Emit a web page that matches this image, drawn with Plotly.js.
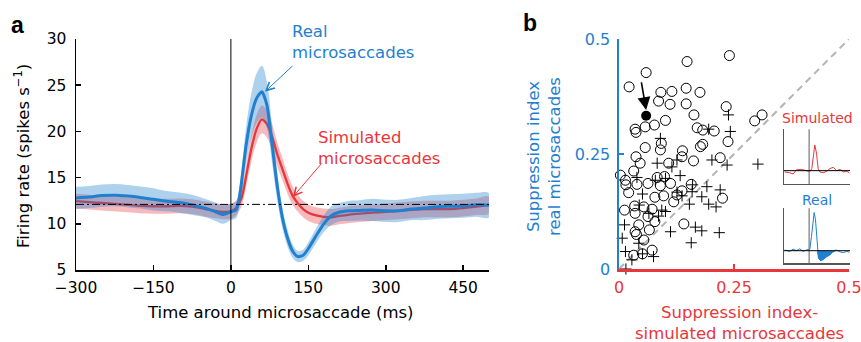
<!DOCTYPE html>
<html><head><meta charset="utf-8">
<script src="https://cdn.plot.ly/plotly-3.0.1.min.js"></script>
<style>html,body{margin:0;padding:0;background:#fff}</style>
</head><body><div id="chart" style="width:861px;height:342px"></div>
<script>
// ---------- Panel a data ----------
const timeMs = [-300,-275,-250,-225,-200,-175,-150,-125,-100,-75,-50,-30,-15,0,10,15,20,25,30,40,50,60,70,80,90,100,110,120,130,140,150,165,180,195,210,230,250,275,300,325,350,375,400,425,450,475,500];
const realMean = [12.8,12.9,13.05,13.1,13.0,12.85,12.65,12.45,12.3,12.05,11.7,11.3,11.0,11.3,11.5,12.4,14.2,16.5,18.7,21.8,23.6,24.3,22.8,18.5,14.0,10.6,8.4,7.0,6.45,6.6,7.3,8.7,10.0,10.9,11.25,11.4,11.45,11.5,11.4,11.4,11.6,11.7,11.85,11.9,11.95,12.05,12.0];
const realSem = [1.2,1.2,1.2,1.2,1.2,1.2,1.2,1.1,1.1,1.1,1.0,1.0,1.0,0.9,0.9,1.0,1.3,1.7,2.0,2.4,2.7,2.8,2.5,2.0,1.5,1.1,0.9,0.7,0.6,0.6,0.7,0.8,0.9,1.0,1.0,1.1,1.1,1.2,1.2,1.2,1.2,1.3,1.3,1.3,1.3,1.3,1.3];
const simMean = [12.45,12.35,12.25,12.15,12.05,11.95,11.9,11.9,11.95,11.85,11.6,11.4,11.3,11.35,11.7,12.1,12.7,13.8,15.3,18.2,20.3,21.3,20.8,19.4,17.5,15.9,14.3,13.0,12.2,11.6,11.2,10.9,10.75,10.7,10.85,11.0,11.1,11.2,11.3,11.4,11.5,11.6,11.6,11.6,11.7,11.85,12.05];
const simSem = [0.8,0.8,0.8,0.8,0.8,0.8,0.8,0.8,0.8,0.8,0.8,0.8,0.8,0.8,0.8,0.8,0.9,1.0,1.2,1.4,1.5,1.5,1.5,1.4,1.3,1.2,1.1,1.0,0.9,0.9,0.9,0.9,0.9,0.9,0.9,0.9,0.9,0.9,0.9,0.9,0.9,0.9,0.9,0.9,0.9,0.9,0.9];
const baselineRate = 12.1;
const timeTicks = [-300,-150,0,150,300,450];
const timeTickText = ['\u2212300','\u2212150','0','150','300','450'];
const rateTicks = [5,10,15,20,25,30];
const realArrowTip = [66, 24.3];
const simArrowTip = [120, 12.9];

// ---------- Panel b data ----------
const circX = [0.240,0.148,0.059,0.022,0.091,0.115,0.146,0.176,0.086,0.111,0.146,0.233,0.311,0.163,0.101,0.295,0.035,0.037,0.057,0.077,0.170,0.182,0.207,0.237,0.092,0.090,0.057,0.177,0.182,0.138,0.137,0.037,0.046,0.162,0.108,0.220,0.032,0.003,0.014,0.015,0.039,0.063,0.083,0.099,0.090,0.112,0.157,0.137,0.021,0.078,0.097,0.119,0.126,0.225,0.012,0.035,0.034,0.054,0.072,0.063,0.078,0.043,0.035,0.038,0.066,0.141,0.054,0.072,0.051,0.032];
const circY = [0.464,0.451,0.427,0.396,0.384,0.386,0.393,0.384,0.365,0.358,0.359,0.353,0.335,0.335,0.323,0.322,0.304,0.297,0.309,0.313,0.307,0.302,0.300,0.277,0.273,0.259,0.264,0.266,0.271,0.257,0.244,0.244,0.230,0.235,0.230,0.242,0.213,0.204,0.193,0.183,0.184,0.186,0.199,0.201,0.181,0.186,0.184,0.170,0.166,0.156,0.159,0.146,0.161,0.154,0.128,0.121,0.137,0.135,0.130,0.114,0.103,0.096,0.081,0.075,0.085,0.098,0.063,0.041,0.033,0.030];
const crossX = [0.238,0.242,0.195,0.090,0.083,0.115,0.126,0.202,0.235,0.302,0.039,0.079,0.101,0.133,0.160,0.191,0.220,0.126,0.051,0.137,0.159,0.180,0.195,0.211,0.153,0.044,0.065,0.093,0.101,0.086,0.012,0.166,0.180,0.218,0.112,0.007,0.043,0.157,0.051,0.014,0.075,0.028,0.015];
const crossY = [0.335,0.299,0.304,0.284,0.230,0.222,0.237,0.237,0.226,0.228,0.199,0.193,0.197,0.203,0.183,0.179,0.172,0.167,0.163,0.159,0.168,0.157,0.141,0.135,0.141,0.139,0.121,0.128,0.125,0.115,0.096,0.091,0.083,0.079,0.081,0.067,0.056,0.057,0.033,0.038,0.027,0.020,0.000];
const exampleX = [0.059];
const exampleY = [0.333];
const indexTicks = [0, 0.25, 0.5];
const indexTickText = ['0','0.25','0.5'];
const unityLine = [0, 0.5];

// ---------- Inset data (example neuron) ----------
const insetSimT = [-146,-116,-96,-76,-46,-16,4,16,24,34,44,54,64,84,104,124,144,164,184,204,224,240];
const insetSimV = [-0.05,-0.08,-0.13,0.03,0.05,0,-0.04,0.08,0.61,1.0,0.68,0.08,-0.05,-0.08,-0.03,0.08,0.13,0,0.05,-0.05,-0.03,-0.08];
const insetRealT = [-146,-116,-96,-76,-56,-36,-16,4,14,24,30,38,48,56,68,84,104,124,140,160,184,204,224,240];
const insetRealV = [0.02,-0.02,0.04,0,0.05,-0.02,0.02,0.04,0.37,0.89,1.0,0.81,0.11,-0.2,-0.26,-0.23,-0.16,-0.11,-0.04,0.02,-0.03,-0.05,-0.02,-0.04];

const BLUE = '#1f80d0', RED = '#e8363b';
const FONT = 'DejaVu Sans, Arial, sans-serif';

function band(t, m, s) {
  const up = m.map((v,i)=>v+s[i]);
  const lo = m.map((v,i)=>v-s[i]);
  return {x: t.concat(t.slice().reverse()), y: up.concat(lo.slice().reverse())};
}
const rb = band(timeMs, realMean, realSem);
const sb = band(timeMs, simMean, simSem);

const dipT = [], dipV = [];
insetRealT.forEach((t,i)=>{ if (t>=48 && t<=160) { dipT.push(t); dipV.push(Math.min(insetRealV[i],0)); } });

const traces = [
  {x: sb.x, y: sb.y, fill:'toself', fillcolor:'rgba(232,54,59,0.34)', line:{width:0, shape:'spline'}, mode:'lines', xaxis:'x', yaxis:'y', hoverinfo:'skip'},
  {x: timeMs, y: simMean, mode:'lines', line:{color:RED, width:2.3, shape:'spline', smoothing:0.6}, xaxis:'x', yaxis:'y'},
  {x: rb.x, y: rb.y, fill:'toself', fillcolor:'rgba(31,128,208,0.36)', line:{width:0, shape:'spline'}, mode:'lines', xaxis:'x', yaxis:'y', hoverinfo:'skip'},
  {x: timeMs, y: realMean, mode:'lines', line:{color:BLUE, width:3, shape:'spline', smoothing:0.6}, xaxis:'x', yaxis:'y'},
  // panel b
  {x: unityLine, y: unityLine, mode:'lines', line:{color:'#b3b3b3', width:2, dash:'7px,5px'}, xaxis:'x2', yaxis:'y2'},
  {x: circX, y: circY, mode:'markers', marker:{symbol:'circle-open', size:10, color:'#000', line:{width:1, color:'#000'}}, xaxis:'x2', yaxis:'y2', cliponaxis:false},
  {x: crossX, y: crossY, mode:'markers', marker:{symbol:'cross-thin-open', size:8, color:'#000', line:{width:1, color:'#000'}}, xaxis:'x2', yaxis:'y2', cliponaxis:false},
  {x: exampleX, y: exampleY, mode:'markers', marker:{symbol:'circle', size:10, color:'#000'}, xaxis:'x2', yaxis:'y2', cliponaxis:false},
  // insets
  {x: insetSimT, y: insetSimV, mode:'lines', line:{color:RED, width:1}, xaxis:'x3', yaxis:'y3'},
  {x: dipT, y: dipV, mode:'lines', fill:'tozeroy', fillcolor:BLUE, line:{color:BLUE, width:0.5}, xaxis:'x4', yaxis:'y4'},
  {x: insetRealT, y: insetRealV, mode:'lines', line:{color:BLUE, width:1}, xaxis:'x4', yaxis:'y4'}
];

const insetAxisX = {range:[-150,244], showline:true, linecolor:'#555', linewidth:1.2, ticks:'', showticklabels:false, showgrid:false, zeroline:false, fixedrange:true};
const insetAxisY = {showline:true, linecolor:'#555', linewidth:1.2, ticks:'', showticklabels:false, showgrid:false, zeroline:false, fixedrange:true};

const layout = {
  width:861, height:342, margin:{l:0,r:0,t:0,b:0}, showlegend:false,
  paper_bgcolor:'#fff', plot_bgcolor:'rgba(0,0,0,0)',
  font:{family:FONT, color:'#000'},
  xaxis:{domain:[76/861, 489/861], range:[-300,500], tickvals:timeTicks, ticktext:timeTickText,
    showline:true, linecolor:'#000', linewidth:1.5, ticks:'inside', ticklen:5, tickwidth:1.5, tickcolor:'#000',
    showgrid:false, zeroline:false, tickfont:{family:FONT, size:15.5, color:'#000'}, anchor:'y', ticklabelstandoff:3},
  yaxis:{domain:[72/342, 303/342], range:[5,30], tickvals:rateTicks,
    showline:true, linecolor:'#000', linewidth:1.5, ticks:'inside', ticklen:5, tickwidth:1.5, tickcolor:'#000',
    showgrid:false, zeroline:false, tickfont:{family:FONT, size:15.5, color:'#000'}, anchor:'x', ticklabelstandoff:5},
  xaxis2:{domain:[619/861, 849/861], range:[0,0.5], tickvals:indexTicks, ticktext:indexTickText,
    showline:true, linecolor:RED, linewidth:2.5, ticks:'inside', ticklen:5, tickwidth:2, tickcolor:RED,
    showgrid:false, zeroline:false, tickfont:{family:FONT, size:16, color:RED}, anchor:'y2', ticklabeloverflow:'allow', ticklabelstandoff:2},
  yaxis2:{domain:[73/342, 303/342], range:[0,0.5], tickvals:indexTicks, ticktext:indexTickText,
    showline:true, linecolor:BLUE, linewidth:2.5, ticks:'inside', ticklen:5, tickwidth:2, tickcolor:BLUE,
    showgrid:false, zeroline:false, tickfont:{family:FONT, size:16, color:BLUE}, anchor:'x2', ticklabelstandoff:3},
  xaxis3:Object.assign({domain:[784/861, 850/861], anchor:'y3'}, insetAxisX),
  yaxis3:Object.assign({domain:[158/342, 212.7/342], range:[-0.52,1.61], anchor:'x3'}, insetAxisY),
  xaxis4:Object.assign({domain:[784/861, 850/861], anchor:'y4'}, insetAxisX),
  yaxis4:Object.assign({domain:[78.7/342, 133.7/342], range:[-0.33,1.11], anchor:'x4'}, insetAxisY),
  shapes:[
    {type:'line', xref:'x', yref:'y domain', x0:0, x1:0, y0:0, y1:1, line:{color:'#000', width:1}},
    {type:'line', xref:'x domain', yref:'y', x0:0, x1:1, y0:baselineRate, y1:baselineRate, line:{color:'#000', width:1, dash:'8px,3px,2px,3px'}},
    {type:'line', xref:'x3', yref:'y3 domain', x0:0, x1:0, y0:0, y1:1, line:{color:'#777', width:1.2}},
    {type:'line', xref:'x3 domain', yref:'y3', x0:0, x1:1, y0:0, y1:0, line:{color:'#000', width:1}},
    {type:'line', xref:'x4', yref:'y4 domain', x0:0, x1:0, y0:0, y1:1, line:{color:'#777', width:1.2}},
    {type:'line', xref:'x4 domain', yref:'y4', x0:0, x1:1, y0:0, y1:0, line:{color:'#000', width:1}}
  ],
  annotations:[
    {text:'<b>a</b>', xref:'paper', yref:'paper', x:17/861, y:(342-25)/342, xanchor:'center', yanchor:'middle', showarrow:false, font:{family:'Liberation Sans, Arial', size:23, color:'#000'}},
    {text:'<b>b</b>', xref:'paper', yref:'paper', x:530/861, y:(342-23)/342, xanchor:'center', yanchor:'middle', showarrow:false, font:{family:'Liberation Sans, Arial', size:23, color:'#000'}},
    {text:'Time around microsaccade (ms)', xref:'paper', yref:'paper', x:280.5/861, y:(342-312)/342, xanchor:'center', yanchor:'middle', showarrow:false, font:{family:FONT, size:16.5, color:'#000'}},
    {text:'Firing rate (spikes s<sup>\u22121</sup>)', xref:'paper', yref:'paper', x:22/861, y:(342-156)/342, xanchor:'center', yanchor:'middle', textangle:-90, showarrow:false, font:{family:FONT, size:16.5, color:'#000'}},
    {text:'Real<br>microsaccades', xref:'paper', yref:'paper', x:290/861, y:(342-42)/342, xanchor:'left', yanchor:'middle', align:'left', showarrow:false, font:{family:FONT, size:16.5, color:BLUE}},
    {text:'Simulated<br>microsaccades', xref:'paper', yref:'paper', x:316/861, y:(342-148)/342, xanchor:'left', yanchor:'middle', align:'left', showarrow:false, font:{family:FONT, size:16.5, color:RED}},
    {text:'', x:realArrowTip[0], y:realArrowTip[1], xref:'x', yref:'y', showarrow:true, ax:29, ay:-27, arrowhead:5, arrowsize:1.6, arrowwidth:1, arrowcolor:BLUE, standoff:0},
    {text:'', x:simArrowTip[0], y:simArrowTip[1], xref:'x', yref:'y', showarrow:true, ax:30, ay:-35, arrowhead:5, arrowsize:1.6, arrowwidth:1, arrowcolor:RED, standoff:0},
    {text:'Suppression index<br>real microsaccades', xref:'paper', yref:'paper', x:544/861, y:(342-157)/342, xanchor:'center', yanchor:'middle', textangle:-90, showarrow:false, font:{family:FONT, size:16.5, color:BLUE}},
    {text:'Suppression index-<br>simulated microsaccades', xref:'paper', yref:'paper', x:739/861, y:(342-322.5)/342, xanchor:'center', yanchor:'middle', showarrow:false, font:{family:FONT, size:16.5, color:RED}},
    {text:'', x:exampleX[0], y:0.3457, xref:'x2', yref:'y2', showarrow:true, ax:-5, ay:-29, arrowhead:2, arrowsize:1.6, arrowwidth:1.6, arrowcolor:'#000', standoff:0},
    {text:'Simulated', xref:'paper', yref:'paper', x:817/861, y:(342-118)/342, xanchor:'center', yanchor:'middle', showarrow:false, font:{family:FONT, size:14, color:RED}},
    {text:'Real', xref:'paper', yref:'paper', x:817/861, y:(342-200)/342, xanchor:'center', yanchor:'middle', showarrow:false, font:{family:FONT, size:14, color:BLUE}}
  ]
};
Plotly.newPlot('chart', traces, layout, {staticPlot:true, displayModeBar:false});
</script></body></html>
